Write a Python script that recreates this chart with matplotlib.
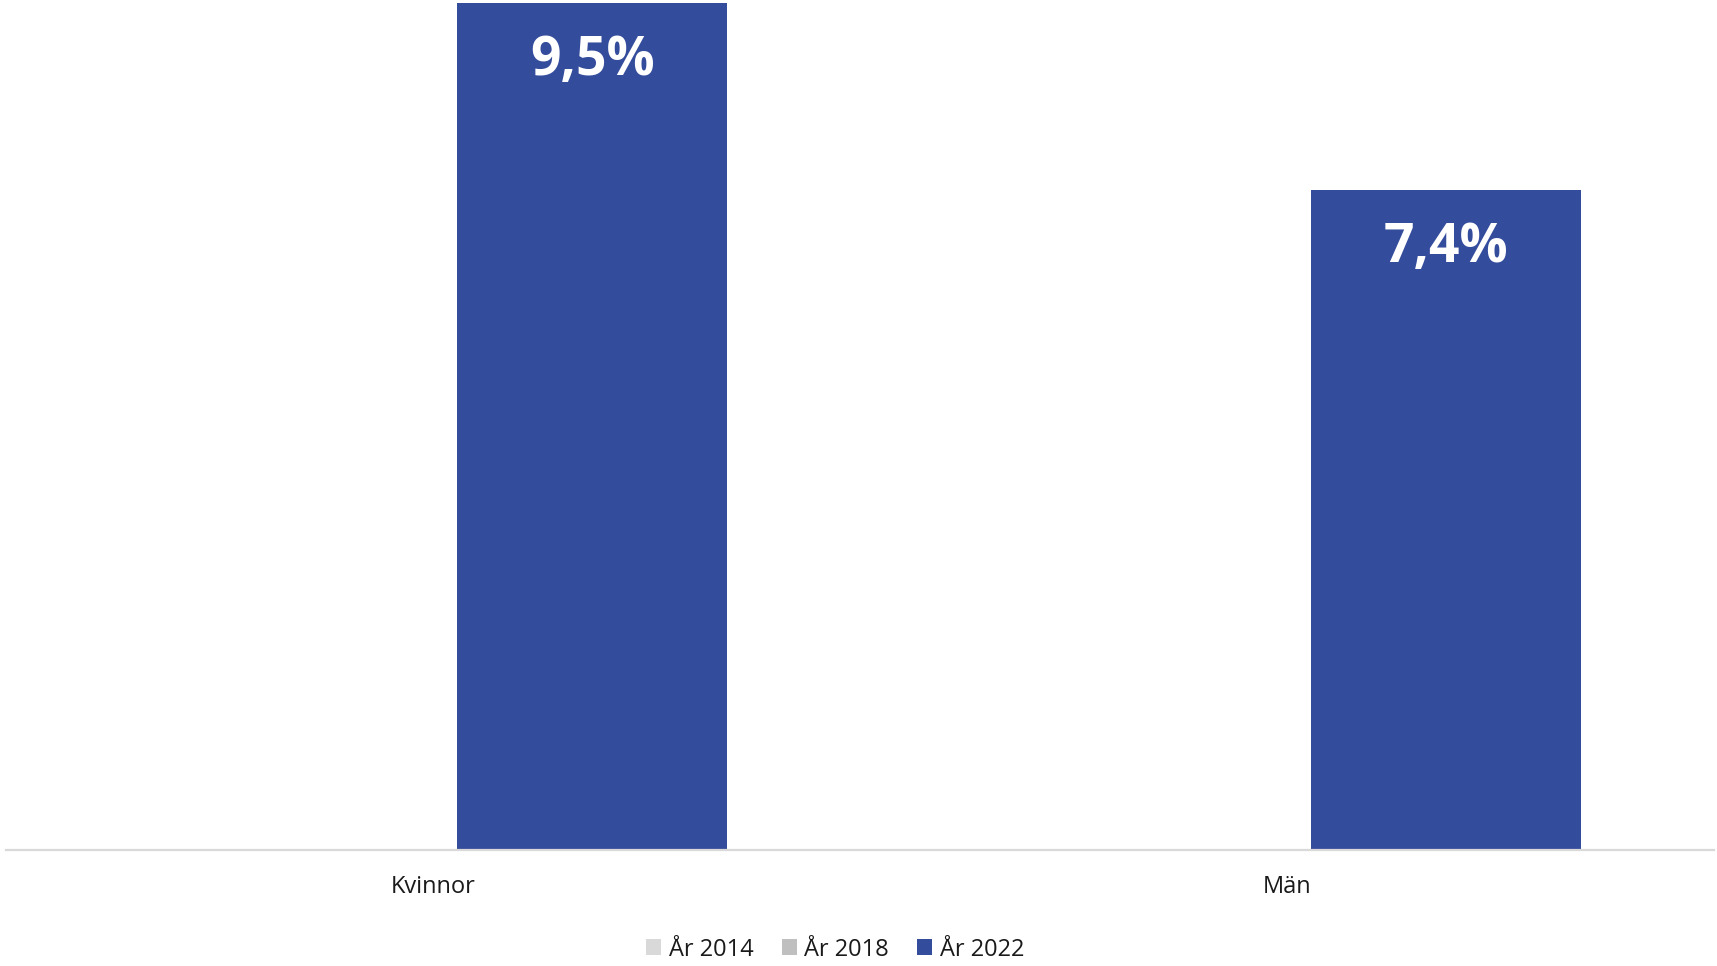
import numpy as np
import matplotlib
matplotlib.use("Agg")
import matplotlib.pyplot as plt
from matplotlib.patches import Patch

plt.rcParams['font.family'] = ['Open Sans', 'DejaVu Sans']

categories = ["Kvinnor", "Män"]
series_names = ["År 2014", "År 2018", "År 2022"]
values_2014 = [np.nan, np.nan]
values_2018 = [np.nan, np.nan]
values_2022 = [9.5, 7.4]
labels_2022 = ["9,5%", "7,4%"]
colors = ["#D9D9D9", "#BFBFBF", "#344C9C"]

fig = plt.figure(figsize=(17.17, 9.66), dpi=100)
ax = fig.add_axes([6/1717, 1 - 850/966, (1714 - 6)/1717, 850/966])

x = np.arange(len(categories))
width = 0.316
offsets = [-0.1855, 0.0, 0.1865]
all_vals = [values_2014, values_2018, values_2022]
for vals, off, col in zip(all_vals, offsets, colors):
    arr = np.array(vals, dtype=float)
    ax.bar(x + off, np.where(np.isnan(arr), 0.0, arr), width, color=col,
           edgecolor='none')

for xi, v, lab in zip(x, values_2022, labels_2022):
    ax.annotate(lab, (xi + offsets[2], v), xytext=(0, -22.5), textcoords='offset points',
                ha='center', va='top', color='white', fontsize=38.5, fontweight='bold')

ax.set_xlim(-0.5, 1.5)
ax.set_ylim(0, 9.5 * 850 / 847)
ax.set_xticks(x)
ax.set_xticklabels(categories, fontsize=17, color='#1a1a1a')
ax.tick_params(axis='x', length=0, pad=18)
ax.set_yticks([])
for s in ['top', 'left', 'right']:
    ax.spines[s].set_visible(False)
ax.spines['bottom'].set_color('#D9D9D9')
ax.spines['bottom'].set_linewidth(1.6)

handles = [Patch(facecolor=c, edgecolor='none') for c in colors]
fig.legend(handles, series_names, loc='center', bbox_to_anchor=(835/1717, 1 - 949.5/966),
           ncol=3, frameon=False, fontsize=17, handlelength=0.65, handleheight=0.65,
           handletextpad=0.3, columnspacing=1.2, labelcolor='#1a1a1a')

fig.savefig("out.png", dpi=100)
